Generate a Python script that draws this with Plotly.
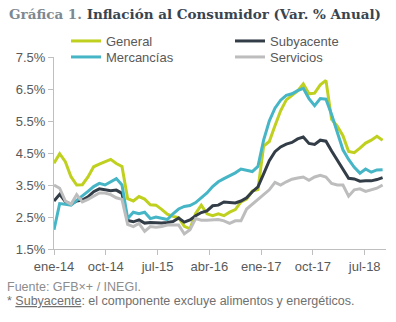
import plotly.graph_objects as go

# x index 0..58 (monthly)
tick_labels = ["ene-14", "oct-14", "jul-15", "abr-16", "ene-17", "oct-17", "jul-18"]

general = [4.18, 4.48, 4.23, 3.76, 3.50, 3.51, 3.75, 4.07, 4.15, 4.22, 4.30, 4.17, 4.08,
           3.07, 3.00, 3.14, 3.06, 2.88, 2.87, 2.74, 2.59, 2.52, 2.48, 2.21, 2.13,
           2.61, 2.87, 2.60, 2.54, 2.60, 2.54, 2.65, 2.73, 2.97, 3.06, 3.31, 3.36,
           4.72, 4.86, 5.35, 5.82, 6.16, 6.31, 6.44, 6.66, 6.35, 6.37, 6.63, 6.77,
           5.55, 5.34, 5.04, 4.55, 4.51, 4.65, 4.81, 4.90, 5.02, 4.90]

subyacente = [3.00, 3.21, 2.98, 2.90, 3.00, 3.03, 3.13, 3.29, 3.38, 3.35, 3.32, 3.34, 3.24,
              2.39, 2.35, 2.41, 2.31, 2.33, 2.31, 2.31, 2.33, 2.36, 2.47, 2.34, 2.41,
              2.54, 2.64, 2.69, 2.85, 2.87, 2.97, 2.96, 2.94, 3.00, 3.10, 3.29, 3.44,
              3.85, 4.26, 4.54, 4.69, 4.78, 4.83, 4.94, 5.00, 4.80, 4.77, 4.90, 4.87,
              4.56, 4.27, 4.02, 3.71, 3.69, 3.62, 3.63, 3.63, 3.67, 3.73]

mercancias = [2.10, 2.92, 2.90, 2.87, 3.02, 3.15, 3.30, 3.45, 3.55, 3.50, 3.60, 3.70, 3.50,
              2.45, 2.65, 2.60, 2.65, 2.45, 2.50, 2.45, 2.42, 2.60, 2.75, 2.83, 2.86,
              2.95, 3.10, 3.25, 3.45, 3.60, 3.70, 3.78, 3.88, 4.00, 3.95, 3.92, 4.08,
              4.90, 5.50, 5.90, 6.15, 6.30, 6.35, 6.45, 6.52, 6.20, 5.98, 6.20, 6.18,
              5.70, 5.15, 4.60, 4.30, 4.05, 3.87, 4.00, 3.90, 3.97, 3.98]

servicios = [3.50, 3.40, 3.00, 2.90, 3.20, 2.97, 3.05, 3.15, 3.25, 3.25, 3.20, 3.10, 3.05,
             2.27, 2.20, 2.30, 2.05, 2.20, 2.18, 2.20, 2.25, 2.25, 2.25, 1.97, 2.10,
             2.45, 2.40, 2.40, 2.40, 2.42, 2.38, 2.30, 2.38, 2.38, 2.75, 2.90, 3.05,
             3.20, 3.35, 3.58, 3.50, 3.60, 3.68, 3.72, 3.75, 3.65, 3.75, 3.80, 3.75,
             3.55, 3.50, 3.50, 3.15, 3.35, 3.38, 3.30, 3.35, 3.40, 3.50]

x = list(range(len(general)))

W, H = 396, 322
L, R, T, B = 54, 10, 57, 73
PW, PH = W - L - R, H - T - B

def px(xp):
    return (xp - L) / PW

def py(yp):
    return (H - B - yp) / PH

fig = go.Figure()
series = [("General", general, "#bfd01f", "legend", 66, 41),
          ("Subyacente", subyacente, "#333d47", "legend2", 230, 41),
          ("Mercancías", mercancias, "#46b5c6", "legend3", 66, 57),
          ("Servicios", servicios, "#bdbdbd", "legend4", 230, 57)]
legends = {}
for name, vals, col, lg, lx, ly in series:
    fig.add_trace(go.Scatter(x=x, y=vals, mode="lines", name=name, legend=lg,
                             line=dict(color=col, width=3)))
    legends[lg] = dict(orientation="h", x=px(lx), y=py(ly), xanchor="left", yanchor="middle",
                       font=dict(size=13, color="#595959"), bgcolor="rgba(0,0,0,0)",
                       borderwidth=0)

tick_step = 9.14
fig.update_layout(
    width=W, height=H,
    margin=dict(l=L, r=R, t=T, b=B),
    paper_bgcolor="white", plot_bgcolor="white",
    font=dict(family="Liberation Sans, Arial", size=13, color="#595959"),
    showlegend=True,
    xaxis=dict(range=[0, 58.6], showgrid=False, zeroline=False,
               showline=True, linecolor="#bfbfbf", linewidth=1,
               ticks="outside", ticklen=5, tickcolor="#bfbfbf",
               tickvals=[i * tick_step for i in range(len(tick_labels))],
               ticktext=tick_labels, tickfont=dict(size=13, color="#595959")),
    yaxis=dict(range=[1.5, 7.5], showgrid=False, zeroline=False,
               showline=True, linecolor="#bfbfbf", linewidth=1,
               ticks="outside", ticklen=5, tickcolor="#bfbfbf",
               tick0=1.5, dtick=1, tickformat=".1f", ticksuffix="%",
               tickfont=dict(size=13, color="#595959")),
    **legends,
)

fig.add_annotation(xref="paper", yref="paper", x=px(7), y=py(14),
                   xanchor="left", yanchor="middle", showarrow=False,
                   text="<span style='color:#7d8891'>Gráfica 1.</span> Inflación al Consumidor (Var. % Anual)",
                   font=dict(family="DejaVu Serif", size=13.5, color="#3a444e", weight="bold"))
fig.add_annotation(xref="paper", yref="paper", x=px(5), y=py(287),
                   xanchor="left", yanchor="middle", showarrow=False,
                   text="Fuente: GFB×+ / INEGI.",
                   font=dict(size=12.5, color="#8c8c8c"))
fig.add_annotation(xref="paper", yref="paper", x=px(5), y=py(301),
                   xanchor="left", yanchor="middle", showarrow=False,
                   text="* <span style='text-decoration:underline'>Subyacente</span>: el componente excluye alimentos y energéticos.",
                   font=dict(size=12.5, color="#707070"))

fig.write_html("out.html")
